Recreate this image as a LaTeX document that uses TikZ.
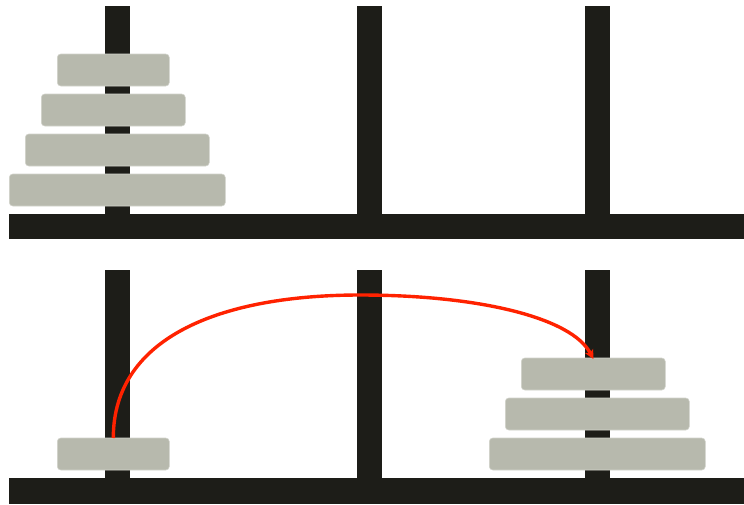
\documentclass[tikz,border=0pt]{standalone}
\usetikzlibrary{arrows.meta}
\definecolor{pegcol}{HTML}{1D1D18}
\definecolor{diskcol}{HTML}{B7B9AD}
\definecolor{diskedge}{HTML}{D2D3CB}
\definecolor{movecol}{HTML}{FF2200}

\begin{document}
\begin{tikzpicture}[
  x=1pt, y=-1pt,
  post/.style={fill=pegcol},
  disk/.style={draw=diskedge, line width=0.6pt, fill=diskcol, rounded corners=3.5pt,
               minimum height=32pt, inner sep=0pt, outer sep=0pt},
  move/.style={-{Stealth[length=9pt, width=9pt, inset=2pt]}, line width=3.4pt, movecol}
]
\useasboundingbox (0,0) rectangle (744,504);

% pegs and bases, top and bottom panel
\foreach \px in {117.5, 369.5, 597.5} {
  \fill[post] (\px-12.5,6) rectangle (\px+12.5,214);
  \fill[post] (\px-12.5,270) rectangle (\px+12.5,478);
}
\fill[post] (9,214) rectangle (744,239);
\fill[post] (9,478) rectangle (744,504);

% start position
\node[disk, minimum width=112pt] (a1) at (113.3,70) {};
\node[disk, minimum width=144pt] (a2) at (113.3,110) {};
\node[disk, minimum width=184pt] (a3) at (117.3,150) {};
\node[disk, minimum width=216pt] (a4) at (117.3,190) {};

% after the moves
\node[disk, minimum width=112pt] (b1) at (113.3,454) {};
\node[disk, minimum width=144pt] (c2) at (593.3,374) {};
\node[disk, minimum width=184pt] (c3) at (597.3,414) {};
\node[disk, minimum width=216pt] (c4) at (597.3,454) {};

\coordinate (top) at (360,295);
\draw[move] (b1.north) .. controls (113.3,335) and (225,295) .. (top)
  .. controls (480,295) and (572,318) .. ([yshift=-1pt]c2.north);
\end{tikzpicture}
\end{document}
